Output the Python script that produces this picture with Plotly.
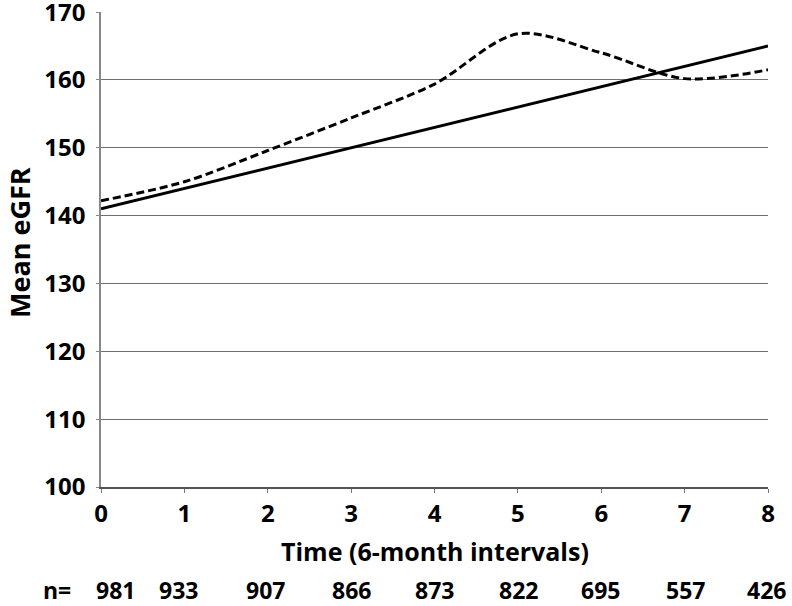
import plotly.graph_objects as go

times = [0, 1, 2, 3, 4, 5, 6, 7, 8]
observed = [142.2, 145.0, 149.6, 154.4, 159.4, 166.8, 164.0, 160.2, 161.5]
predicted = [141, 144, 147, 150, 153, 156, 159, 162, 165]
n_counts = ["981", "933", "907", "866", "873", "822", "695", "557", "426"]
y_ticks = [100, 110, 120, 130, 140, 150, 160, 170]

FONT = "Open Sans"
L, R, T, B = 101, 24, 12, 119
W, H = 792, 606
PW, PH = W - L - R, H - T - B
Y_AXIS_PX = H - B

def px_to_paper_x(px):
    return (px - L) / PW

def px_below_axis(px):
    return -px / PH

fig = go.Figure()
fig.add_trace(go.Scatter(x=times, y=predicted, mode="lines",
                         line=dict(color="black", width=3), showlegend=False))
fig.add_trace(go.Scatter(x=times, y=observed, mode="lines",
                         line=dict(color="black", width=3, dash="8px,4px",
                                   shape="spline", smoothing=0.9),
                         showlegend=False))

bold = lambda size: dict(family=FONT, size=size, color="black", weight="bold")

n_shift = [14, -6, -2, 0, 0, 1, -1, 1, -2]
for t, n, s in zip(times, n_counts, n_shift):
    fig.add_annotation(x=t, y=px_below_axis(103), xref="x", yref="paper", text=n,
                       showarrow=False, xshift=s, xanchor="center",
                       yanchor="middle", font=bold(23))
fig.add_annotation(x=px_to_paper_x(57), y=px_below_axis(103), xref="paper",
                   yref="paper", text="n=", showarrow=False, xanchor="center",
                   yanchor="middle", font=bold(23))
fig.add_annotation(x=0.5, y=px_below_axis(64), xref="paper", yref="paper",
                   text="Time (6-month intervals)", showarrow=False,
                   xanchor="center", yanchor="middle", font=bold(25))
fig.add_annotation(x=px_to_paper_x(19), y=(Y_AXIS_PX - 243) / PH, xref="paper",
                   yref="paper", text="Mean eGFR", showarrow=False,
                   textangle=-90, xanchor="center", yanchor="middle",
                   font=bold(27))

fig.update_layout(
    width=W, height=H,
    margin=dict(l=L, r=R, t=T, b=B, autoexpand=False),
    plot_bgcolor="white", paper_bgcolor="white",
    font=bold(23),
    xaxis=dict(range=[0, 8], tickvals=times, ticks="outside", ticklen=4,
               tickcolor="#777", linecolor="#555", linewidth=1.5, showgrid=False,
               zeroline=False, showline=True, automargin=False,
               tickfont=bold(24)),
    yaxis=dict(range=[100, 170.02], tickvals=y_ticks, ticks="outside", ticklen=3,
               tickcolor="#888", linecolor="#888", linewidth=1.5, showline=True,
               gridcolor="#707070", gridwidth=1, zeroline=False, automargin=False,
               ticklabelstandoff=6, ticklabeloverflow="allow",
               tickfont=bold(24)),
)

fig.write_html("out.html", config={"displayModeBar": False},
               post_script="document.body.style.margin='0';"
                           "document.body.style.overflow='hidden';")
